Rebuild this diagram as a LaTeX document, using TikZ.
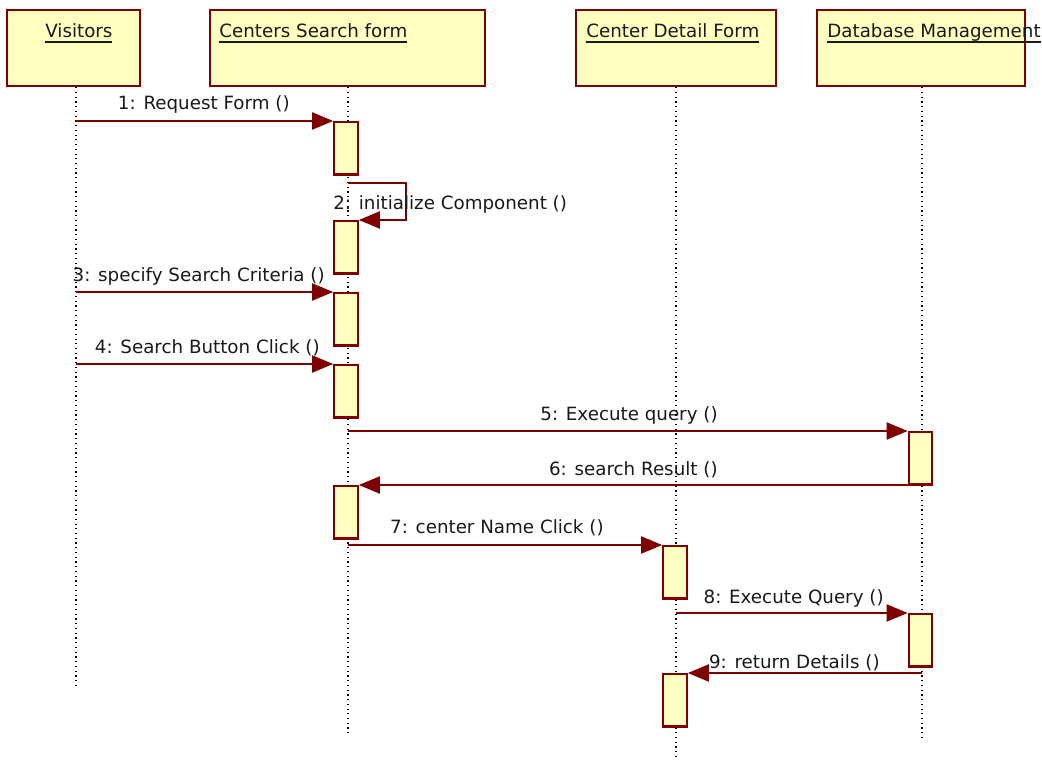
\documentclass[tikz,border=0pt]{standalone}
\usepackage{fontspec}
\setmainfont{DejaVu Sans}
\usetikzlibrary{positioning, arrows.meta}

\definecolor{umlred}{RGB}{128,0,0}
\definecolor{umlfill}{RGB}{255,255,192}

% underlined object name with a heavier rule
\newcommand\objul[1]{\setbox0\hbox{#1}\rlap{\rule[-2.6pt]{\wd0}{1.1pt}}\box0}

\begin{document}
\begin{tikzpicture}[
    x=0.02cm, y=-0.02cm,
    txt/.style={font=\fontsize{10.4}{12}\selectfont, inner sep=0pt, text=black!90},
    obj/.style={rectangle, draw=umlred, fill=umlfill, line width=1.25pt, minimum height=1.52cm, inner sep=0pt},
    objname/.style={txt, anchor=base west},
    act/.style={rectangle, draw=umlred, fill=umlfill, line width=1.25pt, minimum width=0.47cm, minimum height=1.05cm, inner sep=0pt, anchor=north},
    life/.style={dotted, line width=0.7pt, black},
    msg/.style={-{Triangle[length=0.42cm, width=0.34cm]}, draw=umlred, line width=1.15pt},
    lbl/.style={txt, anchor=base east}
]
\useasboundingbox (0,0) rectangle (1042,760);

% objects
\node[obj, minimum width=2.66cm] (vis) at (73.5,48) {};
\node[obj, minimum width=5.5cm] (csf) at (347.5,48) {};
\node[obj, minimum width=4cm] (cdf) at (676,48) {};
\node[obj, minimum width=4.16cm] (dbm) at (921,48) {};

\node[objname] at (45,38) {\objul{Visitors}};
\node[objname] at (219,38) {\objul{Centers Search form}};
\node[objname] at (586,38) {\objul{Center Detail Form}};
\node[objname] at (827,38) {\objul{Database Management}};

% lifelines
\coordinate (visEnd) at (76,688);
\coordinate (csfEnd) at (348,735);
\coordinate (cdfEnd) at (676,758);
\coordinate (dbmEnd) at (922,740);
\draw[life] (vis.south -| visEnd) -- (visEnd);
\draw[life] (csf.south -| csfEnd) -- (csfEnd);
\draw[life] (cdf.south -| cdfEnd) -- (cdfEnd);
\draw[life] (dbm.south -| dbmEnd) -- (dbmEnd);

% activations
\node[act] (a1) at (346,121) {};
\node[act] (a2) at (346,220) {};
\node[act] (a3) at (346,292) {};
\node[act] (a4) at (346,364) {};
\node[act] (a5) at (920.5,431) {};
\node[act] (a6) at (346,485) {};
\node[act] (a7) at (675,545) {};
\node[act] (a8) at (920.5,613) {};
\node[act] (a9) at (675,673) {};

% messages
\draw[msg] (visEnd |- a1.north) -- (a1.north west);
\node[lbl] at (290,110) {1: Request Form ()};

\draw[msg] ([xshift=0.04cm, yshift=-0.14cm]a1.south) -- ++(58,0) |- (a2.north east);
\node[objname] at (333,210) {2: initialize Component ()};

\draw[msg] (visEnd |- a3.north) -- (a3.north west);
\node[lbl] at (325,282) {3: specify Search Criteria ()};

\draw[msg] (visEnd |- a4.north) -- (a4.north west);
\node[lbl] at (320,354) {4: Search Button Click ()};

\draw[msg] (csfEnd |- a5.north) -- (a5.north west);
\node[lbl] at (718,420) {5: Execute query ()};

\draw[msg] (dbmEnd |- a6.north) -- (a6.north east);
\node[lbl] at (718,475) {6: search Result ()};

\draw[msg] (csfEnd |- a7.north) -- (a7.north west);
\node[lbl] at (604,533) {7: center Name Click ()};

\draw[msg] (cdfEnd |- a8.north) -- (a8.north west);
\node[lbl] at (884,603) {8: Execute Query ()};

\draw[msg] (dbmEnd |- a9.north) -- (a9.north east);
\node[lbl] at (880,668) {9: return Details ()};

\end{tikzpicture}
\end{document}
